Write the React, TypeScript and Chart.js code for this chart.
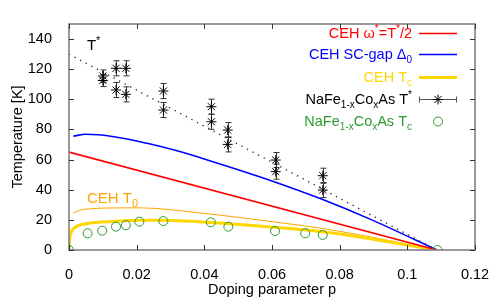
import React, { useEffect, useRef } from "react";
import { Chart, registerables } from "chart.js";

Chart.register(...registerables);

const FONT = "'Liberation Sans', Arial, Helvetica, sans-serif";

// Axis ranges / ticks
const X_MIN = 0, X_MAX = 0.12, X_STEP = 0.02;
const Y_MIN = 0, Y_MAX = 150, Y_STEP = 20;

// Theory: T* (dotted) and CEH omega* = T*/2
const tStarLineX = [0, 0.1087];
const tStarLineY = [130, 0];
const omegaX = [0, 0.1087];
const omegaY = [65, 0];

// CEH SC-gap Delta0
const gapX = [0.0013, 0.005, 0.0133, 0.0231, 0.033, 0.0395, 0.0486, 0.0604, 0.075, 0.09, 0.1087];
const gapY = [75.6, 76.8, 75.2, 70.8, 65.2, 60.8, 54.3, 45.5, 33.5, 19.5, 0];

// CEH Tc
const tcX = [0, 0.0002, 0.0006, 0.002, 0.006, 0.0127, 0.021, 0.028, 0.0417, 0.0624, 0.0772, 0.1087];
const tcY = [0, 7, 11.5, 15.3, 17.7, 18.9, 19.8, 19.7, 18.3, 14.8, 11.5, 0];

// CEH T0
const t0X = [0.0012, 0.003, 0.0058, 0.0127, 0.0206, 0.0387, 0.0624, 0.0772, 0.1087];
const t0Y = [24.5, 26.3, 27.3, 27.9, 28.0, 24.6, 18.1, 13.5, 0];

// NaFe1-xCoxAs T* (experiment)
const expTsX = [0.010, 0.010, 0.0139, 0.0139, 0.0168, 0.0168, 0.0279, 0.0279, 0.0421, 0.0421, 0.0469, 0.0469, 0.0611, 0.0611, 0.075, 0.075];
const expTsY = [115.5, 112.5, 120.6, 106.2, 120.6, 103.3, 105.5, 92.9, 95.1, 85.1, 79.6, 70.1, 59.7, 52.0, 49.3, 39.8];
const expTsErr = [4, 4, 5, 5, 5, 5, 5, 5, 5, 5, 5, 5, 5, 5, 5, 5];

// NaFe1-xCoxAs Tc (experiment)
const expTcX = [0, 0.0055, 0.0098, 0.0139, 0.0168, 0.0208, 0.0279, 0.0419, 0.0471, 0.0609, 0.0698, 0.075, 0.1089];
const expTcY = [0, 11.1, 12.8, 15.5, 16.4, 18.8, 19.2, 18.4, 15.5, 12.6, 11.1, 10.0, 0];

const pts = (xs: number[], ys: number[]) => xs.map((x, i) => ({ x, y: ys[i] }));

type Part = [string, "n" | "sub" | "sup"];

function drawRich(ctx: CanvasRenderingContext2D, parts: Part[], x: number, y: number, align: "left" | "right", size: number, color: string) {
  const fontFor = (k: string) => `${k === "n" ? size : Math.round(size * 0.72)}px ${FONT}`;
  let total = 0;
  for (const [t, k] of parts) {
    ctx.font = fontFor(k);
    total += ctx.measureText(t).width;
  }
  let cx = align === "right" ? x - total : x;
  ctx.save();
  ctx.fillStyle = color;
  ctx.textAlign = "left";
  ctx.textBaseline = "alphabetic";
  for (const [t, k] of parts) {
    ctx.font = fontFor(k);
    const dy = k === "sub" ? size * 0.28 : k === "sup" ? -size * 0.42 : 0;
    ctx.fillText(t, cx, y + dy);
    cx += ctx.measureText(t).width;
  }
  ctx.restore();
}

const decorPlugin = {
  id: "decor",
  beforeDatasetsDraw(chart: any) {
    const { ctx, scales } = chart;
    const xs = scales.x, ys = scales.y;
    // error bars for T* data
    ctx.save();
    ctx.strokeStyle = "#333";
    ctx.lineWidth = 1;
    expTsX.forEach((xv, i) => {
      const px = Math.round(xs.getPixelForValue(xv)) + 0.5;
      const y1 = ys.getPixelForValue(expTsY[i] + expTsErr[i]);
      const y2 = ys.getPixelForValue(expTsY[i] - expTsErr[i]);
      ctx.beginPath();
      ctx.moveTo(px, y1); ctx.lineTo(px, y2);
      ctx.moveTo(px - 3, y1); ctx.lineTo(px + 3, y1);
      ctx.moveTo(px - 3, y2); ctx.lineTo(px + 3, y2);
      ctx.stroke();
    });
    ctx.restore();
  },
  afterDraw(chart: any) {
    const { ctx, chartArea: a, scales } = chart;
    const xs = scales.x, ys = scales.y;
    ctx.save();
    // frame
    ctx.strokeStyle = "#808080";
    ctx.lineWidth = 1.6;
    ctx.strokeRect(a.left, a.top, a.right - a.left, a.bottom - a.top);
    // inward ticks, all four sides
    ctx.strokeStyle = "#333";
    ctx.lineWidth = 1;
    const TL = 5;
    xs.ticks.forEach((t: any) => {
      const px = Math.round(xs.getPixelForValue(t.value)) + 0.5;
      ctx.beginPath();
      ctx.moveTo(px, a.bottom); ctx.lineTo(px, a.bottom - TL);
      ctx.moveTo(px, a.top); ctx.lineTo(px, a.top + TL);
      ctx.stroke();
    });
    ys.ticks.forEach((t: any) => {
      const py = Math.round(ys.getPixelForValue(t.value)) + 0.5;
      ctx.beginPath();
      ctx.moveTo(a.left, py); ctx.lineTo(a.left + TL, py);
      ctx.moveTo(a.right, py); ctx.lineTo(a.right - TL, py);
      ctx.stroke();
    });
    ctx.restore();

    // annotations
    drawRich(ctx, [["T", "n"], ["*", "sup"]], xs.getPixelForValue(0.0053), ys.getPixelForValue(132.7), "left", 15, "#000");
    drawRich(ctx, [["CEH T", "n"], ["0", "sub"]], xs.getPixelForValue(0.0053), ys.getPixelForValue(31.2), "left", 15, "#ffa500");

    // legend
    const tx = a.right - 63;
    const l1 = a.right - 56, l2 = a.right - 18;
    const rows = [33, 54, 77, 99, 121];
    const fs = 14.5;
    const base = (r: number) => r + 5;
    drawRich(ctx, [["CEH ω", "n"], ["*", "sup"], ["=T", "n"], ["*", "sup"], ["/2", "n"]], tx, base(rows[0]), "right", fs, "#ff0000");
    drawRich(ctx, [["CEH SC-gap Δ", "n"], ["0", "sub"]], tx, base(rows[1]), "right", fs, "#0000ff");
    drawRich(ctx, [["CEH T", "n"], ["c", "sub"]], tx, base(rows[2]), "right", fs, "#ffd700");
    drawRich(ctx, [["NaFe", "n"], ["1-x", "sub"], ["Co", "n"], ["x", "sub"], ["As T", "n"], ["*", "sup"]], tx, base(rows[3]), "right", fs, "#000");
    drawRich(ctx, [["NaFe", "n"], ["1-x", "sub"], ["Co", "n"], ["x", "sub"], ["As T", "n"], ["c", "sub"]], tx, base(rows[4]), "right", fs, "#2e9a2e");

    ctx.save();
    const seg = (y: number, color: string, w: number) => {
      ctx.strokeStyle = color; ctx.lineWidth = w;
      ctx.beginPath(); ctx.moveTo(l1, y + 0.5); ctx.lineTo(l2, y + 0.5); ctx.stroke();
    };
    seg(rows[0], "#ff0000", 1.5);
    seg(rows[1], "#0000ff", 1.5);
    seg(rows[2], "#ffd700", 3);
    // error-bar sample
    const r4 = rows[3] + 0.5;
    ctx.strokeStyle = "#555"; ctx.lineWidth = 1;
    ctx.beginPath();
    ctx.moveTo(l1, r4); ctx.lineTo(l2, r4);
    ctx.moveTo(l1 + 0.5, r4 - 3); ctx.lineTo(l1 + 0.5, r4 + 3);
    ctx.moveTo(l2 - 0.5, r4 - 3); ctx.lineTo(l2 - 0.5, r4 + 3);
    ctx.stroke();
    const mx = (l1 + l2) / 2;
    ctx.strokeStyle = "#000";
    ctx.beginPath();
    const R = 5;
    ctx.moveTo(mx - R, r4); ctx.lineTo(mx + R, r4);
    ctx.moveTo(mx, r4 - R); ctx.lineTo(mx, r4 + R);
    const d = R * 0.7071;
    ctx.moveTo(mx - d, r4 - d); ctx.lineTo(mx + d, r4 + d);
    ctx.moveTo(mx - d, r4 + d); ctx.lineTo(mx + d, r4 - d);
    ctx.stroke();
    ctx.strokeStyle = "#2e9a2e";
    ctx.beginPath(); ctx.arc(mx, rows[4] + 0.5, 4.5, 0, Math.PI * 2); ctx.stroke();
    ctx.restore();
  },
};

export default function App() {
  const ref = useRef<HTMLCanvasElement>(null);
  useEffect(() => {
    if (!ref.current) return;
    Chart.defaults.font.family = FONT;
    const chart = new Chart(ref.current, {
      type: "scatter",
      data: {
        datasets: [
          { label: "exp Tc", data: pts(expTcX, expTcY), showLine: false, pointStyle: "circle", pointRadius: 4.5, pointHoverRadius: 4.5, borderColor: "#2e9a2e", backgroundColor: "rgba(0,0,0,0)", borderWidth: 1, order: 0 },
          { label: "exp T*", data: pts(expTsX, expTsY), showLine: false, pointStyle: "star", pointRadius: 5, pointHoverRadius: 5, borderColor: "#000", backgroundColor: "#000", borderWidth: 1, order: 1 },
          { label: "T* line", data: pts(tStarLineX, tStarLineY), showLine: true, pointRadius: 0, borderColor: "#222", borderWidth: 1.3, borderDash: [1.3, 5], order: 2 },
          { label: "omega", data: pts(omegaX, omegaY), showLine: true, pointRadius: 0, borderColor: "#ff0000", borderWidth: 1.6, order: 3 },
          { label: "gap", data: pts(gapX, gapY), showLine: true, pointRadius: 0, borderColor: "#0000ff", borderWidth: 1.6, cubicInterpolationMode: "monotone", order: 4 },
          { label: "Tc", data: pts(tcX, tcY), showLine: true, pointRadius: 0, borderColor: "#ffd700", borderWidth: 3, cubicInterpolationMode: "monotone", order: 5 },
          { label: "T0", data: pts(t0X, t0Y), showLine: true, pointRadius: 0, borderColor: "#ffa500", borderWidth: 1, cubicInterpolationMode: "monotone", order: 6 },
        ] as any,
      },
      options: {
        animation: false,
        responsive: false,
        devicePixelRatio: 1,
        layout: { padding: { top: 24, right: 25, left: 0, bottom: 0 } },
        plugins: { legend: { display: false }, tooltip: { enabled: false } },
        scales: {
          x: {
            type: "linear",
            min: X_MIN, max: X_MAX,
            grid: { display: false },
            border: { display: false },
            ticks: {
              stepSize: X_STEP,
              includeBounds: false,
              padding: 8,
              color: "#000",
              font: { size: 14.5, family: FONT },
              maxRotation: 0,
              callback: (v: any) => String(Number(Number(v).toFixed(2))),
            },
            title: { display: true, text: "Doping parameter p", color: "#000", font: { size: 14.5, family: FONT }, padding: { top: 0, bottom: 1 } },
            afterFit: (s: any) => { s.height = 50; },
          },
          y: {
            type: "linear",
            min: Y_MIN, max: Y_MAX,
            grid: { display: false },
            border: { display: false },
            ticks: {
              stepSize: Y_STEP,
              includeBounds: false,
              padding: 9,
              color: "#000",
              font: { size: 14.5, family: FONT },
            },
            title: { display: true, text: "Temperature [K]", color: "#000", font: { size: 14.5, family: FONT }, padding: { top: 9, bottom: 0 } },
            afterFit: (s: any) => { s.width = 69; },
          },
        },
      } as any,
      plugins: [decorPlugin],
    });
    return () => chart.destroy();
  }, []);
  return (
    <div style={{ position: "fixed", left: 0, top: 0, width: 500, height: 300, background: "#fff" }}>
      <canvas ref={ref} width={500} height={300} style={{ width: 500, height: 300, display: "block" }} />
    </div>
  );
}
